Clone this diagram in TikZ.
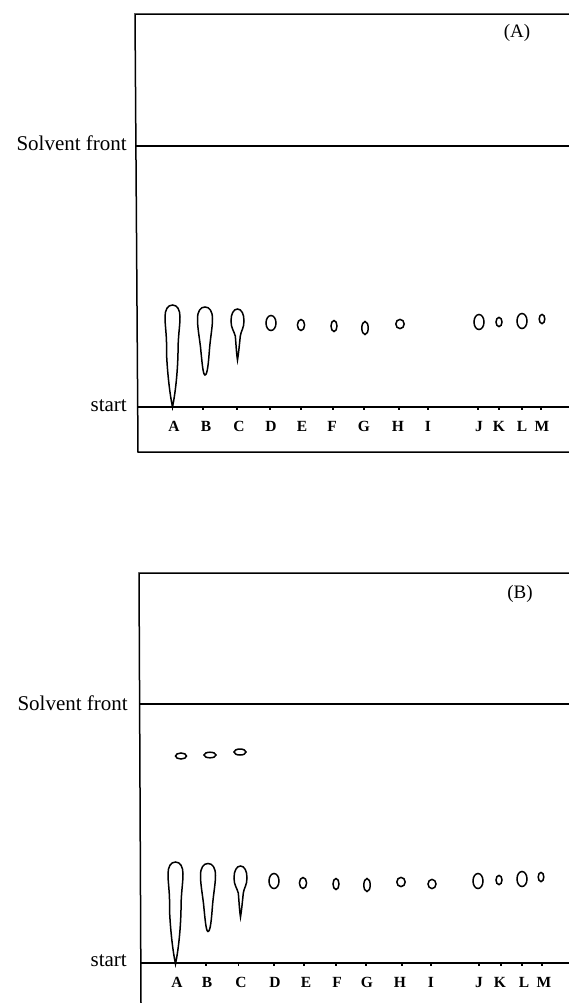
\documentclass[tikz,border=0pt]{standalone}
\usepackage{fontspec}
\setmainfont{Liberation Serif}
\tikzset{
  x=1bp,y=-1bp,
  frame/.style={line width=1.5bp,black},
  spot/.style={line width=1.5bp,black},
  tick/.style={line width=1.2bp,black},
  lane/.style={font=\fontsize{15.5bp}{17bp}\selectfont\bfseries,inner sep=0pt},
  side/.style={font=\fontsize{21bp}{23bp}\selectfont,inner sep=0pt,anchor=east},
  panel/.style={font=\fontsize{19bp}{21bp}\selectfont,inner sep=0pt},
  dropA/.pic={\draw[spot] (0,0) .. controls (5,0) and (7.5,5) .. (7.5,12)
     .. controls (7.5,22) and (5.5,30) .. (5.5,48)
     .. controls (5,70) and (2.5,90) .. (0,102)
     .. controls (-2.5,90) and (-5,70) .. (-6,48)
     .. controls (-5.5,30) and (-7.5,22) .. (-7.5,12)
     .. controls (-7.5,5) and (-5,0) .. (0,0) -- cycle;},
  dropB/.pic={\draw[spot] (0,0) .. controls (4.5,0) and (7.5,4) .. (7.5,12)
     .. controls (7.5,20) and (5.5,30) .. (4.5,42)
     .. controls (3.5,55) and (2.5,68) .. (0,68)
     .. controls (-2,68) and (-3,55) .. (-4.5,40)
     .. controls (-6,28) and (-7.5,20) .. (-7.5,12)
     .. controls (-7.5,4) and (-4.5,0) .. (0,0) -- cycle;},
  dropC/.pic={\draw[spot] (0,0) .. controls (4,0) and (6.5,5) .. (6.5,12)
     .. controls (6.5,19) and (3.5,22) .. (2.8,27)
     .. controls (2,35) and (1,45) .. (0,51)
     .. controls (-1,45) and (-1.5,35) .. (-2.2,27)
     .. controls (-3.5,22) and (-6.5,19) .. (-6.5,12)
     .. controls (-6.5,5) and (-4,0) .. (0,0) -- cycle;},
}
\begin{document}
\begin{tikzpicture}
\useasboundingbox (0,0) rectangle (569,1003);
\fill[white] (0,0) rectangle (569,1003);

% ---- panel A
\coordinate (atl) at (135,14);
\coordinate (atr) at (569,14);
\coordinate (abl) at (138,452);
\coordinate (abr) at (569,452);
\coordinate (afl) at (135.5,146);
\coordinate (afr) at (569,146);
\coordinate (asl) at (137.5,407);
\coordinate (asr) at (569,407);
\draw[frame] (atr) -- (atl) -- (abl) -- (abr);
\draw[frame] (afl) -- (afr);
\draw[frame] (asl) -- (asr);
\node[side] (afront) at (127,143) {Solvent front};
\node[side] (astart) at (127,406) {start};
\node[panel] (atag) at (517,33) {(A)};
\foreach \t/\lx/\l in {172.7/174/A,203/206/B,237/239/C,270/271/D,301/302/E,333/332/F,364/364/G,399/398/H,428/428/I,478/479/J,499/499/K,522/522/L,541/542/M}{
  \draw[tick] (\t,407) -- (\t,410);
  \node[lane] (a\l) at (\lx,426) {\l};
}
\pic at (172.5,305) {dropA};
\pic at (205,307) {dropB};
\pic at (237.5,309) {dropC};
\foreach \x/\y/\rx/\ry in {271/323/5/7.5,301/325/3.6/5.5,334/326/3/5.5,365/328/3.2/6.5,400/324/4.2/4.6,479/322/5/7.5,499/322/3/4.6,522/321/5/7.5,542/319/2.8/4.6}
  \draw[spot] (\x,\y) ellipse [x radius=\rx, y radius=\ry];

% ---- panel B
\coordinate (btl) at (139,573);
\coordinate (btr) at (569,573);
\coordinate (bbl) at (141,1003);
\coordinate (bfl) at (139.5,704);
\coordinate (bfr) at (569,704);
\coordinate (bsl) at (140.5,963);
\coordinate (bsr) at (569,963);
\draw[frame] (btr) -- (btl) -- (bbl);
\draw[frame] (bfl) -- (bfr);
\draw[frame] (bsl) -- (bsr);
\node[side] (bfront) at (128,703) {Solvent front};
\node[side] (bstart) at (127,961) {start};
\node[panel] (btag) at (520,594) {(B)};
\foreach \t/\lx/\l in {175.7/177/A,206/207/B,238.7/241/C,274/275/D,304/306/E,336/337/F,366/367/G,402/400/H,431/431/I,479/479/J,501/500/K,522/524/L,542/544/M}{
  \draw[tick] (\t,963) -- (\t,966);
  \node[lane] (b\l) at (\lx,982) {\l};
}
\pic at (175.5,862) {dropA};
\pic at (208,863.5) {dropB};
\pic at (240.5,866) {dropC};
\foreach \x/\y/\rx/\ry in {274/881/5/7.5,303/883/3.6/5.5,336/884/3/5.5,367/885/3.2/6.5,401/882/4.2/4.6,432/884/4/4.6,478/881/5/7.5,499/880/3/4.6,522/879/5/7.5,541/877/2.8/4.6,181/756/5.5/3,210/755/6/2.8,240/752/6/3}
  \draw[spot] (\x,\y) ellipse [x radius=\rx, y radius=\ry];
\end{tikzpicture}
\end{document}
